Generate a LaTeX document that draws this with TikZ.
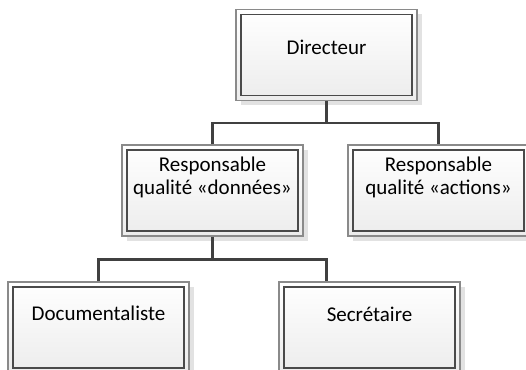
\documentclass[tikz,border=0pt]{standalone}
\usepackage{fontspec}
\setmainfont{Carlito}
\usetikzlibrary{shadows}
\definecolor{outerc}{HTML}{8A8A8A}
\definecolor{innerc}{HTML}{4A4A4A}
\definecolor{boxbot}{HTML}{ECECEC}
\definecolor{shadowc}{HTML}{E2E2E2}
\definecolor{connc}{HTML}{404040}
\begin{document}
\begin{tikzpicture}[x=1pt,y=-1pt,
  box/.style={draw=outerc, line width=1.2pt, minimum width=181pt, minimum height=91pt,
    inner sep=0pt, top color=white, bottom color=boxbot,
    drop shadow={shadow xshift=4.5pt, shadow yshift=-4.5pt, fill=shadowc, opacity=1},
    path picture={\draw[innerc, line width=1.3pt]
      ([shift={(5pt,-5pt)}]path picture bounding box.north west) rectangle
      ([shift={(-5pt,5pt)}]path picture bounding box.south east);}},
  lbl/.style={font=\fontsize{21}{22.5}\selectfont, text=black, align=center, inner sep=0pt},
  conn/.style={draw=connc, line width=2.4pt}]
\useasboundingbox (0,0) rectangle (526,369);
\clip (0,0) rectangle (526,369);
% boxes
\node[box] (dir) at (326.5,55) {};
\node[box] (rqd) at (212.5,190.5) {};
\node[box] (rqa) at (438.5,190.5) {};
\node[box] (doc) at (98.5,327.5) {};
\node[box] (sec) at (369.5,327.5) {};
% labels (anchor=base is the baseline of the last line)
\node[lbl, anchor=base] (tdir) at ([yshift=-46pt]dir.north) {Directeur};
\node[lbl, anchor=base] (trqd) at ([yshift=-50pt]rqd.north) {Responsable\\qualité «données»};
\node[lbl, anchor=base] (trqa) at ([yshift=-50pt]rqa.north) {Responsable\\qualité «actions»};
\node[lbl, anchor=base] (tdoc) at ([yshift=-39.5pt]doc.north) {Documentaliste};
\node[lbl, anchor=base] (tsec) at ([yshift=-40pt]sec.north) {Secrétaire};
% connectors
\coordinate (j1) at ([yshift=-22pt]dir.south);
\coordinate (j2) at ([yshift=-23pt]rqd.south);
\coordinate (sectop) at (sec.north -| dir.south);
\draw[conn] (dir.south) -- (j1);
\draw[conn] (rqd.north) |- (j1) -| (rqa.north);
\draw[conn] (rqd.south) -- (j2);
\draw[conn] (doc.north) |- (j2) -| (sectop);
\end{tikzpicture}
\end{document}
